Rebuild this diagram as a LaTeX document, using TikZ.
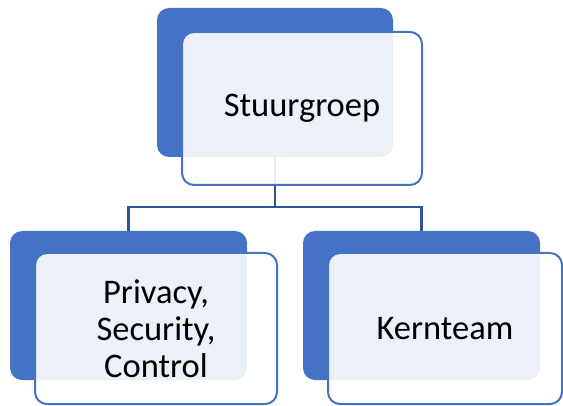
\documentclass[tikz,border=0pt]{standalone}
\usepackage{fontspec}
\setmainfont{Carlito}
\definecolor{accent}{HTML}{4472C4}
\definecolor{linkblue}{HTML}{2F5597}
\tikzset{
  backbox/.style = {
    fill=accent, draw=none, rounded corners=12pt,
    minimum height=149pt
  },
  frontbox/.style = {
    fill=white, fill opacity=0.9, text opacity=1,
    draw=accent, line width=2pt, rounded corners=12pt,
    font=\fontsize{34.5}{37}\selectfont, align=center,
    minimum height=151pt
  },
  link/.style = {draw=linkblue, line width=2.4pt}
}

\begin{document}
\begin{tikzpicture}[x=1pt,y=1pt]
  \useasboundingbox (0,0) rectangle (563,405);
  % connectors first, so the boxes cover them
  \coordinate (top) at (275,322.5);
  \coordinate (left) at (128.5,99.5);
  \coordinate (right) at (421.5,99.5);
  \coordinate (split) at (275,198);
  \draw[link] (top) -- (split) -| (left);
  \draw[link] (split) -| (right);
  % Stuurgroep
  \node[backbox,minimum width=236pt] (sg-back) at (top) {};
  \node[frontbox,minimum width=240pt,minimum height=153pt] (sg) at (302,296.5) {Stuurgroep};
  % Privacy, Security, Control
  \node[backbox,minimum width=237pt] (psc-back) at (left) {};
  \node[frontbox,minimum width=242pt] (psc) at (156,76.5) {Privacy,\\Security,\\Control};
  % Kernteam
  \node[backbox,minimum width=237pt] (kt-back) at (right) {};
  \node[frontbox,minimum width=234pt] (kt) at (445,76.5) {Kernteam};
\end{tikzpicture}
\end{document}
